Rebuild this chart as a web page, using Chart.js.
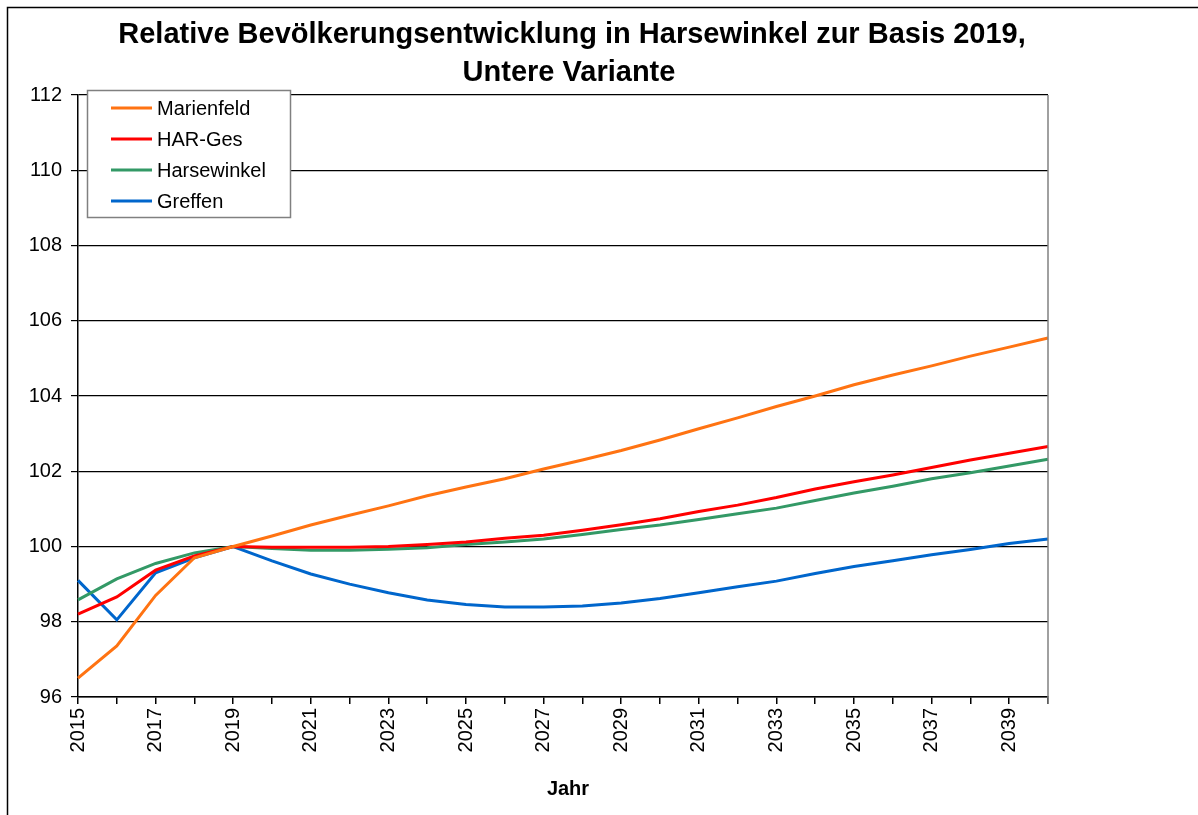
<!DOCTYPE html>
<html>
<head>
<meta charset="utf-8">
<script src="https://cdn.jsdelivr.net/npm/chart.js@4/dist/chart.umd.min.js"></script>
<style>
  html, body { margin: 0; padding: 0; background: #fff; }
  #wrap { width: 1198px; height: 815px; position: relative; }
</style>
</head>
<body>
<div id="wrap"><canvas id="chart" width="1198" height="815"></canvas></div>
<script>
// Jahre 2015 - 2040
const years = [2015, 2016, 2017, 2018, 2019, 2020, 2021, 2022, 2023, 2024, 2025, 2026, 2027,
               2028, 2029, 2030, 2031, 2032, 2033, 2034, 2035, 2036, 2037, 2038, 2039, 2040];

const marienfeld = [96.5, 97.36, 98.7, 99.7, 100, 100.28, 100.57, 100.83, 101.08, 101.35, 101.58, 101.8, 102.06,
                    102.3, 102.55, 102.83, 103.13, 103.42, 103.72, 104.0, 104.3, 104.56, 104.8, 105.06, 105.3, 105.54];
const harGes     = [98.2, 98.66, 99.37, 99.75, 100, 99.98, 99.98, 99.98, 100.0, 100.05, 100.12, 100.22, 100.3,
                    100.43, 100.58, 100.74, 100.93, 101.1, 101.3, 101.53, 101.72, 101.9, 102.1, 102.3, 102.48, 102.66];
const harsewinkel= [98.58, 99.14, 99.55, 99.83, 100, 99.95, 99.9, 99.9, 99.93, 99.97, 100.05, 100.12, 100.2,
                    100.32, 100.45, 100.57, 100.72, 100.87, 101.02, 101.22, 101.42, 101.6, 101.8, 101.96, 102.14, 102.32];
const greffen    = [99.1, 98.05, 99.3, 99.7, 100, 99.62, 99.27, 99.0, 98.77, 98.58, 98.46, 98.39, 98.39,
                    98.42, 98.5, 98.62, 98.77, 98.93, 99.08, 99.28, 99.47, 99.62, 99.78, 99.92, 100.08, 100.2];

const yTicks = [96, 98, 100, 102, 104, 106, 108, 110, 112];

const FONT = '"Liberation Sans", Arial, sans-serif';

// Titel, Rahmen, Legende und Achsentitel zeichnen
const decorPlugin = {
    id: 'decor',
    afterDraw(chart) {
        const c = chart.ctx;
        const area = chart.chartArea;
        c.save();
        // äußerer Rahmen
        c.strokeStyle = '#000';
        c.lineWidth = 1.5;
        c.beginPath();
        c.moveTo(7.5, 815);
        c.lineTo(7.5, 7.5);
        c.lineTo(1198, 7.5);
        c.stroke();

        // rechter Rand der Zeichenfläche
        c.strokeStyle = '#808080';
        c.lineWidth = 1.5;
        c.beginPath();
        c.moveTo(area.right, area.top);
        c.lineTo(area.right, area.bottom + 7);
        c.stroke();

        // Titel
        c.fillStyle = '#000';
        c.textAlign = 'center';
        c.textBaseline = 'alphabetic';
        c.font = 'bold 29px ' + FONT;
        c.fillText('Relative Bevölkerungsentwicklung in Harsewinkel zur Basis 2019,', 572, 43);
        c.fillText('Untere Variante', 569, 81);

        // Achsentitel
        c.font = 'bold 20px ' + FONT;
        c.fillText('Jahr', 568, 795);

        // Legende
        const lx = 87.5, ly = 90.5, lw = 203, lh = 127;
        c.fillStyle = '#fff';
        c.fillRect(lx, ly, lw, lh);
        c.strokeStyle = '#808080';
        c.lineWidth = 1.5;
        c.strokeRect(lx, ly, lw, lh);
        c.font = '20px ' + FONT;
        c.textAlign = 'left';
        c.textBaseline = 'middle';
        chart.data.datasets.forEach((ds, i) => {
            const y = 108 + i * 31;
            c.strokeStyle = ds.borderColor;
            c.lineWidth = 3;
            c.beginPath();
            c.moveTo(111, y);
            c.lineTo(152, y);
            c.stroke();
            c.fillStyle = '#000';
            c.fillText(ds.label, 157, y + 1);
        });
        c.restore();
    }
};

const ctx = document.getElementById('chart').getContext('2d');
new Chart(ctx, {
    type: 'line',
    data: {
        labels: years.map(String),
        datasets: [
            { label: 'Marienfeld', data: marienfeld, borderColor: '#ff7312' },
            { label: 'HAR-Ges', data: harGes, borderColor: '#ff0000' },
            { label: 'Harsewinkel', data: harsewinkel, borderColor: '#339966' },
            { label: 'Greffen', data: greffen, borderColor: '#0066cc' }
        ].map(ds => Object.assign(ds, {
            borderWidth: 3,
            pointRadius: 0,
            tension: 0,
            fill: false
        }))
    },
    options: {
        responsive: false,
        animation: false,
        layout: { padding: { left: 0, right: 150, top: 95, bottom: 0 } },
        plugins: {
            legend: { display: false },
            title: { display: false },
            tooltip: { enabled: false }
        },
        scales: {
            x: {
                type: 'category',
                offset: false,
                afterFit(axis) { axis.height = 118; },
                grid: {
                    drawOnChartArea: false,
                    drawTicks: true,
                    tickLength: 7,
                    color: '#000',
                    lineWidth: 1.5
                },
                border: { color: '#000', width: 1.5 },
                ticks: {
                    autoSkip: false,
                    minRotation: 90,
                    maxRotation: 90,
                    padding: 4,
                    color: '#000',
                    font: { family: FONT, size: 20 },
                    callback(value, index) {
                        return index % 2 === 0 ? this.getLabelForValue(value) : '';
                    }
                }
            },
            y: {
                min: 96,
                max: 112,
                afterFit(axis) { axis.width = 78; },
                afterBuildTicks(axis) { axis.ticks = yTicks.map(v => ({ value: v })); },
                grid: {
                    color: '#000',
                    lineWidth: 1.2,
                    tickLength: 7
                },
                border: { color: '#000', width: 1.5 },
                ticks: {
                    padding: 9,
                    color: '#000',
                    font: { family: FONT, size: 20 }
                }
            }
        }
    },
    plugins: [decorPlugin]
});
</script>
</body>
</html>
